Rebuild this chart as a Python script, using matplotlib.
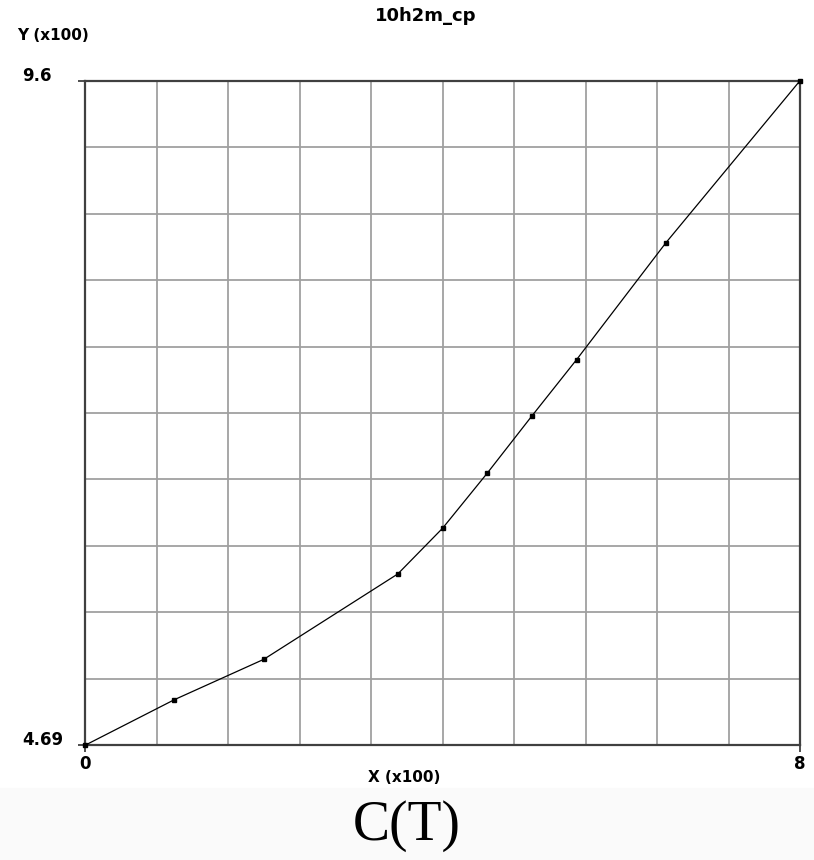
import matplotlib.pyplot as plt
import numpy as np

# data (units of x100)
x_vals = [0, 1, 2, 3.5, 4, 4.5, 5, 5.5, 6.5, 8]
y_vals = [4.69, 5.027, 5.325, 5.956, 6.293, 6.700, 7.123, 7.539, 8.403, 9.6]
x_min, x_max = 0, 8
y_min, y_max = 4.69, 9.6
n_div = 10

fig = plt.figure(figsize=(8.14, 8.6), dpi=100)
fig.patches.append(plt.Rectangle((0, 0), 1, 1 - 788 / 860, transform=fig.transFigure,
                                 color="#fafafa", zorder=-1))

ax = fig.add_axes([85 / 814, (860 - 745.3) / 860, 715 / 814, 664.6 / 860])
ax.set_xlim(x_min, x_max)
ax.set_ylim(y_min, y_max)

ax.plot(x_vals, y_vals, color="black", lw=0.9, marker="s", ms=2.5, clip_on=False, zorder=3)

ax.set_xticks(np.linspace(x_min, x_max, n_div + 1), minor=True)
ax.set_yticks(np.linspace(y_min, y_max, n_div + 1), minor=True)
ax.grid(True, which="minor", color="#a0a0a0", lw=1.3)
ax.tick_params(which="minor", length=0)

ax.set_xticks([x_min, x_max])
ax.set_xticklabels(["0", "8"])
ax.set_yticks([y_min, y_max])
ax.set_yticklabels(["4.69", "9.6"])
ax.tick_params(which="major", length=5, width=1.3, color="#404040", labelsize=12, pad=2)
ax.tick_params(axis="y", pad=40)
for lbl in ax.get_xticklabels() + ax.get_yticklabels():
    lbl.set_fontweight("bold")
for lbl in ax.get_yticklabels():
    lbl.set_horizontalalignment("left")
    lbl.set_verticalalignment("baseline")

for s in ax.spines.values():
    s.set_color("#404040")
    s.set_linewidth(1.6)

fig.text(426 / 814, 1 - 16 / 860, "10h2m_cp", ha="center", va="center", fontsize=13, fontweight="bold")
fig.text(17 / 814, 1 - 36 / 860, "Y (x100)", ha="left", va="center", fontsize=11, fontweight="bold")
fig.text(404 / 814, 1 - 778 / 860, "X (x100)", ha="center", va="center", fontsize=11, fontweight="bold")
fig.text(407 / 814, 1 - 826 / 860, "C(T)", ha="center", va="center", fontsize=40,
         family="Liberation Serif")

plt.savefig("out.png", dpi=100)
